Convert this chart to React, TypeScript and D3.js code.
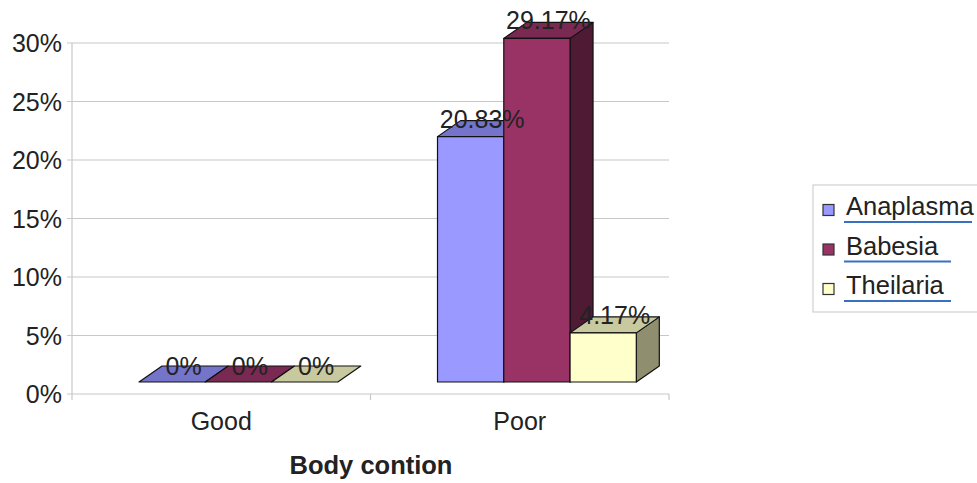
import React from "react";
import * as d3 from "d3";

// Body condition vs. infection rate (%) for three blood parasites
const categories = ["Good", "Poor"];
const seriesNames = ["Anaplasma", "Babesia", "Theilaria"];
const anaplasma = [0, 20.83];
const babesia = [0, 29.17];
const theilaria = [0, 4.17];
const yTicks = [0, 5, 10, 15, 20, 25, 30];
const xTitle = "Body contion";

const seriesValues = [anaplasma, babesia, theilaria];
const frontColors = ["#9999FF", "#993366", "#FFFFCC"];
const topColors = ["#7474CA", "#7A2952", "#C9C9A0"];
const sideColors = ["#5A5AA0", "#4E1A34", "#8F8F70"];

const W = 977;
const H = 483;
const FONT = "'Liberation Sans', Arial, sans-serif";

export default function App() {
  const x = d3.scaleBand<string>().domain(categories).range([72, 669]).padding(0);
  const yWall = d3.scaleLinear().domain([0, 30]).range([394, 43]);
  const yFront = d3.scaleLinear().domain([0, 30]).range([382, 28.6]);
  const depthX = 23;
  const depthY = -16;
  const bw = x.bandwidth();
  const barW = bw * 0.222;
  const groupOffset = bw * 0.2245;
  const fmt = (v: number) => (v === 0 ? "0%" : `${v.toFixed(2)}%`);

  const bars: React.ReactNode[] = [];
  const labels: React.ReactNode[] = [];
  categories.forEach((c, ci) => {
    seriesValues.forEach((vals, si) => {
      const v = vals[ci];
      const x0 = (x(c) as number) + groupOffset + si * barW;
      const x1 = x0 + barW;
      const yt = yFront(v);
      const yb = yFront(0);
      const side = `M${x1},${yb} L${x1 + depthX},${yb + depthY} L${x1 + depthX},${yt + depthY} L${x1},${yt} Z`;
      const top = `M${x0},${yt} L${x0 + depthX},${yt + depthY} L${x1 + depthX},${yt + depthY} L${x1},${yt} Z`;
      bars.push(
        <g key={`${c}-${si}`} stroke="#111" strokeWidth={1.2} strokeLinejoin="round">
          {v > 0 && <path d={side} fill={sideColors[si]} />}
          <path d={top} fill={topColors[si]} />
          {v > 0 && <rect x={x0} y={yt} width={barW} height={yb - yt} fill={frontColors[si]} />}
        </g>
      );
      labels.push(
        <text
          key={`l-${c}-${si}`}
          x={x0 + barW / 2 + depthX / 2}
          y={yt + depthY + (v === 0 ? 9 : 7)}
          textAnchor="middle"
          fontSize={25}
          fill="#222"
          fontFamily={FONT}
        >
          {fmt(v)}
        </text>
      );
    });
  });

  return (
    <svg width={W} height={H} style={{ position: "absolute", left: 0, top: 0, background: "#fff" }}>
      {/* wall gridlines */}
      {yTicks.map((t) => (
        <g key={t}>
          <line x1={67} x2={669} y1={yWall(t)} y2={yWall(t)} stroke="#c8c8c8" strokeWidth={1.2} />
          <text
            x={62}
            y={yWall(t)}
            dy="0.36em"
            textAnchor="end"
            fontSize={25}
            fill="#222"
            fontFamily={FONT}
          >
            {`${t}%`}
          </text>
        </g>
      ))}
      <line x1={72} x2={72} y1={43} y2={400} stroke="#c8c8c8" strokeWidth={1.2} />
      <line x1={669} x2={669} y1={394} y2={400} stroke="#c8c8c8" strokeWidth={1.2} />
      <line x1={x("Poor") as number} x2={x("Poor") as number} y1={394} y2={400} stroke="#c8c8c8" strokeWidth={1.2} />

      {bars}
      {labels}

      {/* category labels */}
      {categories.map((c) => (
        <text
          key={c}
          x={(x(c) as number) + bw / 2}
          y={430}
          textAnchor="middle"
          fontSize={25}
          fill="#222"
          fontFamily={FONT}
        >
          {c}
        </text>
      ))}
      <text x={371} y={474} textAnchor="middle" fontSize={25.5} fontWeight="bold" fill="#222" fontFamily={FONT}>
        {xTitle}
      </text>

      {/* legend */}
      <rect x={813} y={185} width={180} height={127} fill="#fff" stroke="#d0d0d0" strokeWidth={1.2} />
      {seriesNames.map((n, i) => {
        const cy = 210 + i * 39.5;
        const tw = i === 0 ? 128 : 107;
        return (
          <g key={n}>
            <rect x={823} y={cy - 5.5} width={11} height={11} fill={frontColors[i]} stroke="#333" strokeWidth={1.2} />
            <text x={846} y={cy + 5} fontSize={25.5} fill="#222" fontFamily={FONT}>
              {n}
            </text>
            <line x1={844} x2={844 + tw} y1={cy + 12} y2={cy + 12} stroke="#3a70c0" strokeWidth={2} />
          </g>
        );
      })}
    </svg>
  );
}
